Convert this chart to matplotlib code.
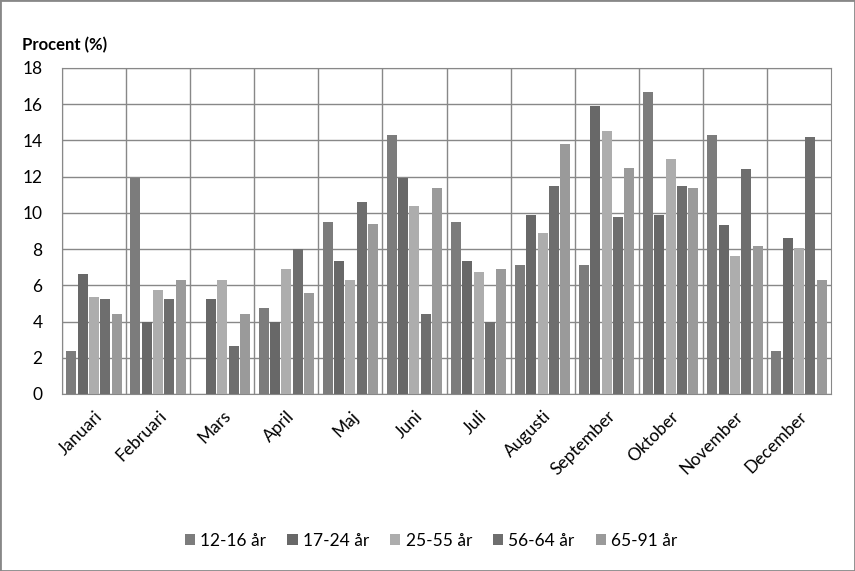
import numpy as np
import matplotlib.pyplot as plt
from matplotlib.patches import Rectangle

plt.rcParams['font.family'] = ['Lato', 'DejaVu Sans']

# Månader och åldersgrupper
manader = ["Januari", "Februari", "Mars", "April", "Maj", "Juni",
           "Juli", "Augusti", "September", "Oktober", "November", "December"]
grupper = ["12-16 år", "17-24 år", "25-55 år", "56-64 år", "65-91 år"]

# Procent per åldersgrupp och månad
ar_12_16 = [2.4, 11.9, 0.0, 4.75, 9.5, 14.3, 9.5, 7.1, 7.1, 16.7, 14.3, 2.4]
ar_17_24 = [6.6, 4.0, 5.25, 4.0, 7.35, 11.9, 7.35, 9.9, 15.9, 9.9, 9.35, 8.6]
ar_25_55 = [5.35, 5.75, 6.3, 6.9, 6.3, 10.4, 6.75, 8.9, 14.5, 13.0, 7.6, 8.05]
ar_56_64 = [5.25, 5.25, 2.65, 8.0, 10.6, 4.4, 4.0, 11.5, 9.75, 11.5, 12.4, 14.2]
ar_65_91 = [4.4, 6.3, 4.4, 5.6, 9.4, 11.35, 6.9, 13.8, 12.5, 11.35, 8.15, 6.3]

serier = [ar_12_16, ar_17_24, ar_25_55, ar_56_64, ar_65_91]
farger = ["#7c7c7c", "#686868", "#adadad", "#6e6e6e", "#9a9a9a"]

fig = plt.figure(figsize=(8.55, 5.71), dpi=100)
ax = fig.add_axes([62 / 855, 1 - 394 / 571, 769 / 855, 326 / 571])

x = np.arange(len(manader))
steg = 0.177
bredd = 0.156
for i, (data, farg, namn) in enumerate(zip(serier, farger, grupper)):
    ax.bar(x + (i - 2) * steg, data, width=bredd, color=farg, label=namn, zorder=3)

ax.set_xlim(-0.5, len(manader) - 0.5)
ax.set_ylim(0, 18)
ax.set_yticks(range(0, 19, 2))

# Rutnät vid månadsgränser och y-ticks
ax.set_xticks(x - 0.5, minor=True)
ax.set_xticks(x)
ax.set_xticklabels(manader, rotation=45, ha="right", rotation_mode="anchor", fontsize=12.5)
ax.grid(axis="y", color="#888888", linewidth=1, zorder=0)
ax.grid(axis="x", which="minor", color="#888888", linewidth=1, zorder=0)
ax.tick_params(axis="x", which="both", length=0, pad=10)
ax.tick_params(axis="y", length=0, pad=14, labelsize=12.5)
for spine in ax.spines.values():
    spine.set_color("#888888")

fig.text(22 / 855, 1 - 45 / 571, "Procent (%)", fontsize=12, fontweight="bold", va="center")

ax.legend(loc="center", bbox_to_anchor=(0.48, -0.45), ncol=5, frameon=False,
          fontsize=12.5, handlelength=0.6, handleheight=0.6, columnspacing=1.2,
          handletextpad=0.3)

# Ram runt hela figuren
fig.patches.append(Rectangle((0, 0), 1, 1, transform=fig.transFigure, fill=False,
                             edgecolor="#888888", linewidth=2))

fig.savefig("out.png", dpi=100)
